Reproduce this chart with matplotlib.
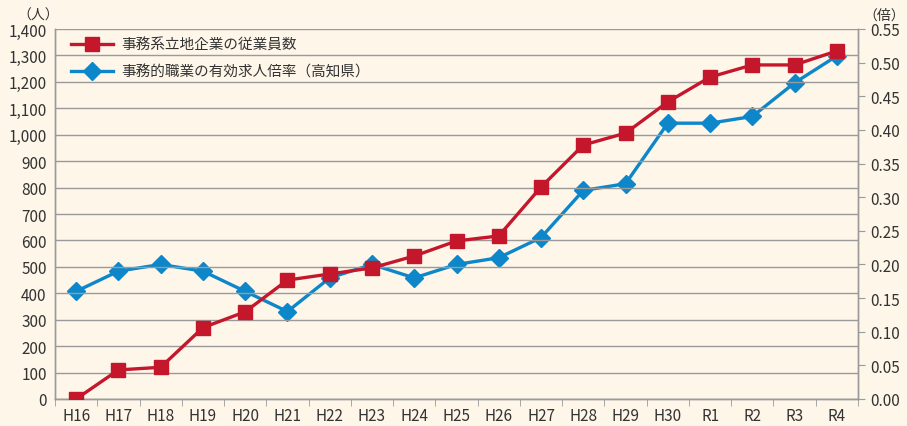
import matplotlib.pyplot as plt
import numpy as np

plt.rcParams['font.family'] = ['Noto Sans CJK JP', 'DejaVu Sans']

years = ['H16', 'H17', 'H18', 'H19', 'H20', 'H21', 'H22', 'H23', 'H24', 'H25',
         'H26', 'H27', 'H28', 'H29', 'H30', 'R1', 'R2', 'R3', 'R4']
# 事務系立地企業の従業員数（人）
employees = [0, 110, 120, 270, 330, 450, 473, 496, 541, 598,
             617, 802, 961, 1006, 1124, 1218, 1264, 1264, 1317]
# 事務的職業の有効求人倍率（倍）
ratio = [0.16, 0.19, 0.20, 0.19, 0.16, 0.13, 0.18, 0.20, 0.18, 0.20,
         0.21, 0.24, 0.31, 0.32, 0.41, 0.41, 0.42, 0.47, 0.51]

left_ticks = np.arange(0, 1401, 100)
right_ticks = np.arange(0, 0.551, 0.05)

bg = '#fdf6e9'
red = '#c4172c'
blue = '#0d87c9'
grid_c = '#9a9a9a'
txt_c = '#333333'

fig = plt.figure(figsize=(9.07, 4.27), dpi=100, facecolor=bg)
ax = fig.add_axes([55/907, 27/427, 803/907, 370/427])
ax.set_facecolor('none')
ax2 = ax.twinx()

x = np.arange(len(years))

ax.set_xlim(-0.5, len(years) - 0.5)
ax.set_ylim(0, 1400)
ax2.set_ylim(0, 0.55)

# gridlines
for v in left_ticks:
    ax.axhline(v, color=grid_c, lw=1.0, zorder=1)

l1, = ax.plot(x, employees, color=red, lw=2.4, marker='s', markersize=10,
              zorder=4, label='事務系立地企業の従業員数')
l2, = ax2.plot(x, ratio, color=blue, lw=2.4, marker='D', markersize=9.5,
               zorder=3, label='事務的職業の有効求人倍率（高知県）')
ax.set_zorder(ax2.get_zorder() + 1)
ax.patch.set_visible(False)

ax.set_yticks(left_ticks)
ax.set_yticklabels([f'{v:,}' for v in left_ticks])
ax.set_xticks(x)
ax.set_xticklabels(years)
ax.set_xticks(np.arange(-0.5, len(years)), minor=True)
ax.tick_params(axis='x', which='major', length=0, pad=6, labelsize=11, colors=txt_c)
ax.tick_params(axis='x', which='minor', length=5, color=grid_c, direction='out')
ax.tick_params(axis='y', length=0, pad=6, labelsize=11, colors=txt_c)

ax2.set_yticks(right_ticks)
ax2.set_yticklabels([f'{v:.2f}' for v in right_ticks])
ax2.tick_params(axis='y', length=5, color=grid_c, pad=4, labelsize=11, colors=txt_c)

for a in (ax, ax2):
    a.spines['top'].set_visible(False)
    for s in ('left', 'bottom', 'right'):
        a.spines[s].set_color(grid_c)
        a.spines[s].set_linewidth(1.0)

fig.text(38/907, 1 - 16/427, '（人）', fontsize=10, color=txt_c, ha='center', va='center')
fig.text(884/907, 1 - 16/427, '（倍）', fontsize=10, color=txt_c, ha='center', va='center')

ax.legend(handles=[l1, l2], loc='upper left', bbox_to_anchor=(0.003, 1.012),
          frameon=False, fontsize=10.5, handlelength=2.9, labelspacing=0.9,
          handletextpad=0.6, labelcolor=txt_c)

fig.savefig('out.png', dpi=100, facecolor=bg)
